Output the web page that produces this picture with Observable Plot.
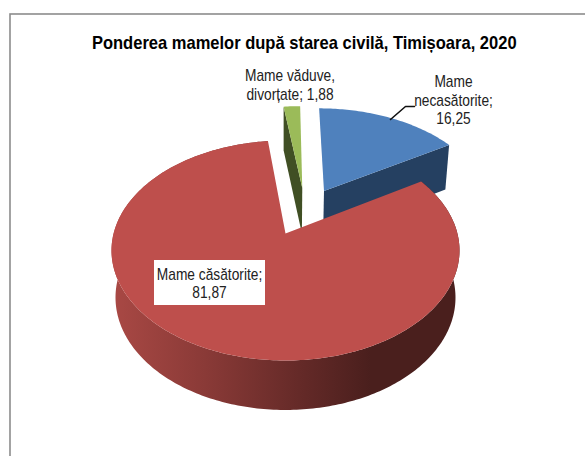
<!DOCTYPE html>
<html>
<head>
<meta charset="utf-8">
<script src="https://cdn.jsdelivr.net/npm/d3@7"></script>
<script src="https://cdn.jsdelivr.net/npm/@observablehq/plot@0.6"></script>
<style>html,body{margin:0;padding:0;background:#fff}svg{display:block}</style>
</head>
<body>
<div id="chart"></div>
<script>
const categories = ["Mame necasătorite", "Mame căsătorite", "Mame văduve, divorțate"];
const values = [16.25, 81.87, 1.88];
const labels = ["Mame\nnecasătorite;\n16,25", "Mame căsătorite;\n81,87", "Mame văduve,\ndivorțate; 1,88"];
const topColors = ["#4F81BD", "#BE4F4C", "#9BBB59"];
const sideColors = ["#254061", "url(#redSide)", "#404F24"];
const title = "Ponderea mamelor după starea civilă, Timișoara, 2020";

// 3D view
const W = 585, H = 456, cx = 285, cy = 250, rx = 174, ry = 110;
const persp = 0.155, explode = 0.245, depthMid = 47, depthTilt = 5, shrink = 0.977;
const nudgeX = 0.012, nudgeY = -0.012;
const total = d3.sum(values);
let acc = 0;
const slices = values.map((v, i) => {
  const a0 = acc / total * 2 * Math.PI; acc += v;
  const a1 = acc / total * 2 * Math.PI;
  return {i, a0, a1, mid: (a0 + a1) / 2};
});
const anchor = slices[1];
function point(s, a, r, z) {
  const isAnchor = s === anchor;
  const ox = explode * (Math.sin(s.mid) - Math.sin(anchor.mid)) + (isAnchor ? 0 : nudgeX);
  const oy = explode * (Math.cos(s.mid) - Math.cos(anchor.mid)) + (isAnchor ? 0 : nudgeY);
  const x = r * Math.sin(a) + ox, y = r * Math.cos(a) + oy;
  const w = 1 + persp * y;
  let X = x * Math.sqrt(1 - persp * persp) / w, Y = (y + persp) / w;
  if (z) {
    const drop = (depthMid - depthTilt * Y) / ry;
    X *= shrink; Y = Y * shrink - drop;
  }
  return {X, Y};
}
function arc(s, z) {
  const n = Math.max(4, Math.ceil((s.a1 - s.a0) * 60));
  return d3.range(n + 1).map(k => point(s, s.a0 + (s.a1 - s.a0) * k / n, 1, z));
}
const topFace = s => [point(s, 0, 0, false), ...arc(s, false), point(s, 0, 0, false)];
const rimWall = s => [...arc(s, false), ...arc(s, true).reverse()];
const cutWall = (s, a) => [point(s, 0, 0, false), point(s, a, 1, false), point(s, a, 1, true), point(s, 0, 0, true)];
const [blue, red, green] = slices;

const px = p => (p - cx) / rx, py = p => (cy - p) / ry;
const poly = (pts, fill) => Plot.line(pts, {x: "X", y: "Y", fill, stroke: "none", curve: "linear"});

const defs = () => {
  const s = d3.create("svg:g");
  const g = s.append("defs").append("linearGradient").attr("id", "redSide");
  g.attr("gradientUnits", "userSpaceOnUse").attr("x1", 115).attr("x2", 370).attr("y1", 0).attr("y2", 0);
  [[0, "#A84844"], [0.35, "#8A3A37"], [0.72, "#652A28"], [1, "#4A1F1D"]].forEach(([o, c]) =>
    g.append("stop").attr("offset", o).attr("stop-color", c));
  return s.node();
};

const F = "'Liberation Sans',Arial,sans-serif";
const labelAt = [[453, 99], [209, 282.5], [289.5, 84]];
const labelRows = labels.map((t, i) => ({t, X: px(labelAt[i][0]), Y: py(labelAt[i][1])}));
const box = [{x1: px(154), x2: px(265), y1: py(260), y2: py(305)}];
const leader = [{X: px(390), Y: py(119)}, {X: px(405), Y: py(106)}, {X: px(414), Y: py(106)}];

const plot = Plot.plot({
  width: W, height: H,
  marginLeft: 9.5, marginTop: 13.5, marginRight: 0, marginBottom: 0,
  x: {domain: [-1, 1], range: [cx - rx, cx + rx], axis: null},
  y: {domain: [-1, 1], range: [cy + ry, cy - ry], axis: null},
  style: {background: "#fff", fontFamily: F},
  marks: [
    defs,
    Plot.frame({stroke: "#8c8c8c", strokeWidth: 1.6, insetRight: -6, insetBottom: -6}),
    poly(cutWall(green, green.a0), sideColors[2]),
    poly(topFace(green), topColors[2]),
    poly(cutWall(blue, blue.a1), sideColors[0]),
    poly(topFace(blue), topColors[0]),
    poly(rimWall(red), sideColors[1]),
    poly(topFace(red), topColors[1]),
    Plot.line(leader, {x: "X", y: "Y", stroke: "#111", strokeWidth: 1.6, curve: "linear"}),
    Plot.rect(box, {x1: "x1", x2: "x2", y1: "y1", y2: "y2", fill: "#fff"}),
    Plot.text(labelRows, {x: "X", y: "Y", text: "t", fontSize: 16, lineHeight: 1.18, fill: "#222", textAnchor: "middle", className: "lbl"}),
    Plot.text([title], {frameAnchor: "top", dx: 6.5, dy: 22, fontSize: 18, fontWeight: "bold", fill: "#000", className: "ttl"})
  ]
});
// The reference's type is horizontally condensed
const condense = (sel, k) => plot.querySelectorAll(sel + " text").forEach(t =>
  t.setAttribute("transform", (t.getAttribute("transform") || "") + ` scale(${k},1)`));
condense(".lbl", 0.86);
condense(".ttl", 0.918);
document.getElementById("chart").append(plot);
</script>
</body>
</html>
